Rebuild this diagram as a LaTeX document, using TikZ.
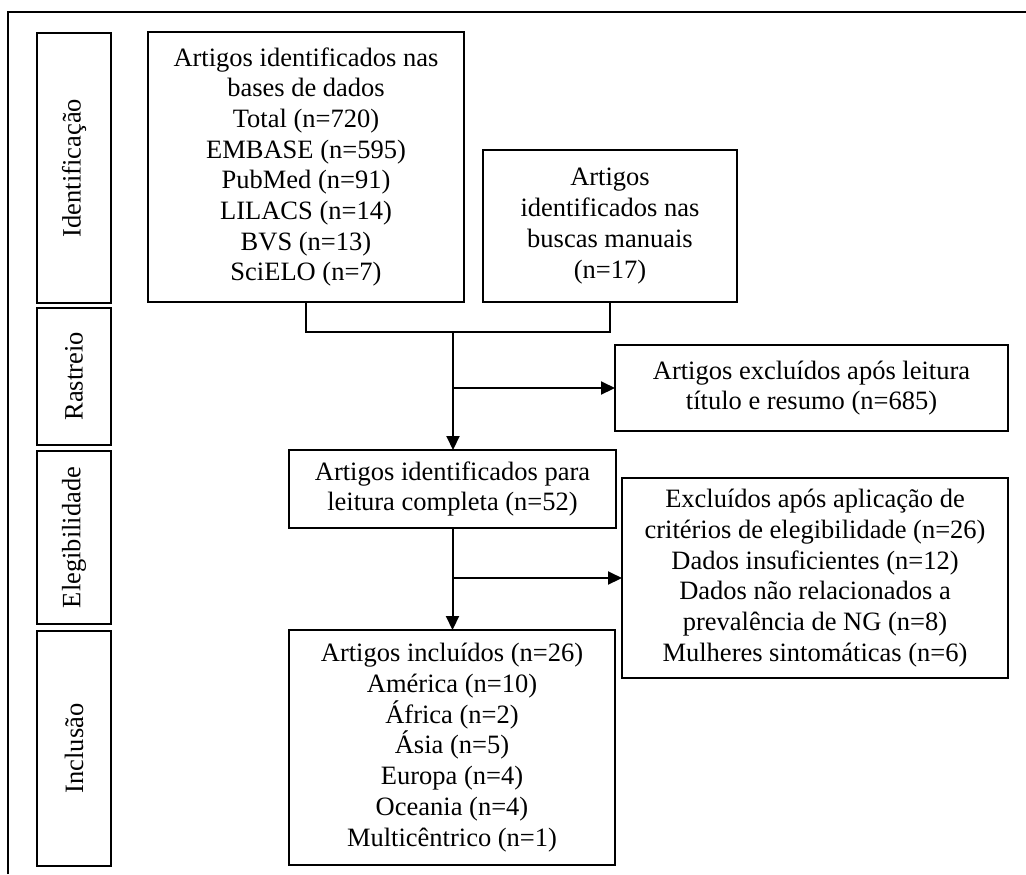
\documentclass[tikz,border=0pt]{standalone}
\usepackage{fontspec}
\setmainfont{Liberation Serif}
\usetikzlibrary{arrows.meta}

\begin{document}
\begin{tikzpicture}[x=0.5pt, y=-0.5pt,
  font=\fontsize{13.25}{15.35}\selectfont,
  box/.style={draw, line width=0.9pt, align=center, inner sep=0pt, outer sep=0pt},
  phase/.style={box, rotate=90, minimum height=37pt},
  arr/.style={line width=1pt, -{Triangle[length=7pt, width=6.5pt]}}]
\useasboundingbox (0,0) rectangle (1026,874);
%draw outer frame
\draw[line width=1pt] (8,874) -- (8,12) -- (1026,12);
%phase boxes on the left
\foreach \nm/\yc/\bh/\lbl in {idf/168/135/Identificação, ras/376.5/68.5/Rastreio,
    ele/537.5/86.5/Elegibilidade, inc/748.5/117.5/Inclusão}{
   \node[phase, minimum width=\bh pt] (\nm) at (74,\yc) {\lbl};
}
%flow boxes
\node[box, minimum width=158pt, minimum height=135pt] (bases) at (306,167)
  {Artigos identificados nas\\bases de dados\\Total (n=720)\\EMBASE (n=595)\\PubMed (n=91)\\LILACS (n=14)\\BVS (n=13)\\SciELO (n=7)};
\node[box, minimum width=127pt, minimum height=76pt] (manual) at (610,226)
  {Artigos\\identificados nas\\buscas manuais\\(n=17)};
\node[box, minimum width=196.5pt, minimum height=43pt] (triagem) at (811.5,388)
  {Artigos excluídos após leitura\\título e resumo (n=685)};
\node[box, minimum width=163.5pt, minimum height=39pt] (leitura) at (452.5,489)
  {Artigos identificados para\\leitura completa (n=52)};
\node[box, minimum width=193pt, minimum height=100pt] (excl) at (815,578)
  {Excluídos após aplicação de\\critérios de elegibilidade (n=26)\\Dados insuficientes (n=12)\\Dados não relacionados a\\prevalência de NG (n=8)\\Mulheres sintomáticas (n=6)};
\node[box, minimum width=163pt, minimum height=117.5pt] (incl) at (452,747.5)
  {Artigos incluídos (n=26)\\América (n=10)\\África (n=2)\\Ásia (n=5)\\Europa (n=4)\\Oceania (n=4)\\Multicêntrico (n=1)};
%connectors
\coordinate (join) at (453,332);
\draw[line width=1pt] (bases.south) |- (join) -| (manual.south);
\draw[arr] (join) -- (join |- leitura.north);
\draw[arr] (join |- triagem.west) -- (triagem.west);
\draw[arr] (leitura.south) -- (leitura.south |- incl.north);
\draw[arr] (leitura.south |- excl.west) -- (excl.west);
\end{tikzpicture}
\end{document}
